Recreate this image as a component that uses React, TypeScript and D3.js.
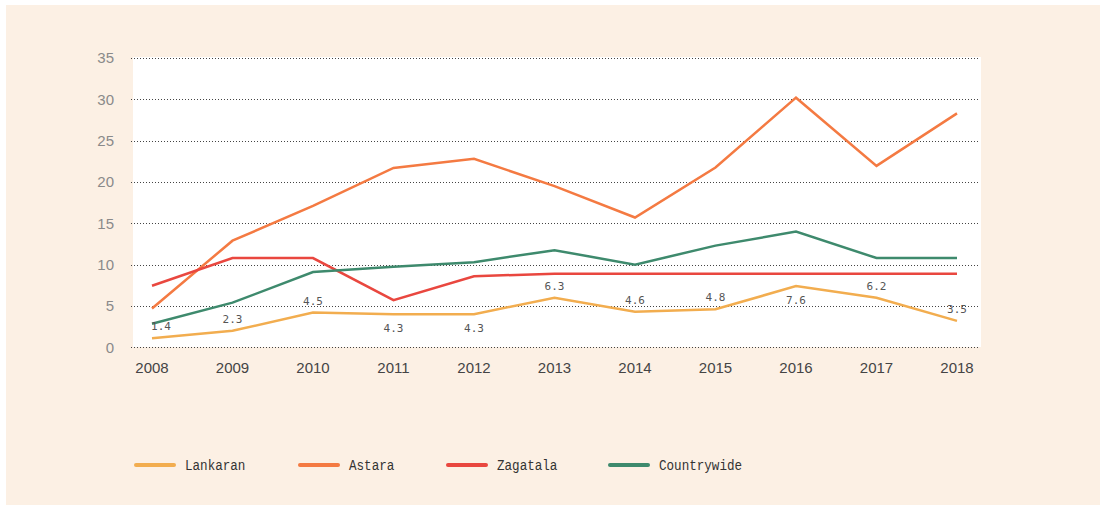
import React from "react";
import * as d3 from "d3";

// years on the x axis
const years = ["2008", "2009", "2010", "2011", "2012", "2013", "2014", "2015", "2016", "2017", "2018"];

// series values
const lankaran = [1.1, 2.0, 4.2, 4.0, 4.0, 6.0, 4.3, 4.6, 7.4, 6.0, 3.2];
const astara = [4.7, 12.9, 17.1, 21.7, 22.8, 19.5, 15.7, 21.75, 30.2, 21.95, 28.3];
const zagatala = [7.45, 10.8, 10.8, 5.7, 8.6, 8.9, 8.9, 8.9, 8.9, 8.9, 8.9];
const countrywide = [2.85, 5.4, 9.1, 9.75, 10.3, 11.75, 10.0, 12.3, 14.0, 10.8, 10.8];

// value labels printed along the Lankaran line
const lankaranLabels = ["1.4", "2.3", "4.5", "4.3", "4.3", "6.3", "4.6", "4.8", "7.6", "6.2", "3.5"];
const labelsBelow = ["2011", "2012", "2016"];

const yTicks = [0, 5, 10, 15, 20, 25, 30, 35];

const seriesNames = ["Lankaran", "Astara", "Zagatala", "Countrywide"];
const seriesValues = [lankaran, astara, zagatala, countrywide];
const colors = ["#f2ad4f", "#f47a42", "#e9473f", "#3e8a6d"];

const W = 1106;
const H = 505;
const plot = { left: 133, right: 981, top: 57, bottom: 347 };

export default function App() {
  const x = d3.scalePoint<string>().domain(years).range([152, 957]);
  const y = d3.scaleLinear().domain([0, 35]).range([347.3, 58]);

  const line = d3
    .line<number>()
    .x((_, i) => x(years[i]) as number)
    .y((d) => y(d));

  const legendX = [134, 298, 446, 608];

  return (
    <svg
      width={W}
      height={H}
      style={{ position: "absolute", left: 0, top: 0, display: "block" }}
    >
      <rect x={6} y={5} width={1094} height={500} fill="#fcf0e4" />
      <rect
        x={plot.left}
        y={plot.top}
        width={plot.right - plot.left}
        height={plot.bottom - plot.top}
        fill="#ffffff"
      />

      {/* grid + y ticks */}
      {yTicks.map((t) => (
        <g key={t}>
          <line
            x1={131}
            x2={978}
            y1={Math.round(y(t)) + 0.5}
            y2={Math.round(y(t)) + 0.5}
            stroke="#444"
            strokeWidth={1}
            strokeDasharray="1,2"
          />
          <text
            x={114}
            y={y(t)}
            dy="0.35em"
            textAnchor="end"
            fontFamily="'Liberation Sans', Arial, sans-serif"
            fontSize={15}
            fill="#8a8a8a"
          >
            {t}
          </text>
        </g>
      ))}

      {/* x ticks */}
      {years.map((yr) => (
        <text
          key={yr}
          x={x(yr)}
          y={373}
          textAnchor="middle"
          fontFamily="'Liberation Sans', Arial, sans-serif"
          fontSize={15}
          fill="#444"
        >
          {yr}
        </text>
      ))}

      {/* lines */}
      {seriesValues.map((vals, i) => (
        <path
          key={seriesNames[i]}
          d={line(vals) || ""}
          fill="none"
          stroke={colors[i]}
          strokeWidth={2.5}
          strokeLinejoin="miter"
        />
      ))}

      {/* Lankaran value labels */}
      {lankaranLabels.map((lab, i) => {
        const below = labelsBelow.includes(years[i]);
        const px = (x(years[i]) as number) + (i === 0 ? 9 : 0);
        const py = y(lankaran[i]) + (below ? 18 : -8);
        return (
          <text
            key={i}
            x={px}
            y={py}
            textAnchor="middle"
            fontFamily="'DejaVu Sans Mono', monospace"
            fontSize={11}
            fill="#555"
          >
            {lab}
          </text>
        );
      })}

      {/* legend */}
      {seriesNames.map((name, i) => (
        <g key={name} transform={`translate(${legendX[i]},465)`}>
          <line x1={2} x2={40} y1={0} y2={0} stroke={colors[i]} strokeWidth={4} strokeLinecap="round" />
          <text
            x={51}
            y={0}
            dy="0.36em"
            fontFamily="'Liberation Mono', 'DejaVu Sans Mono', monospace"
            fontSize={14}
            fill="#333"
            textLength={name.length * 7.55}
            lengthAdjust="spacingAndGlyphs"
          >
            {name}
          </text>
        </g>
      ))}
    </svg>
  );
}
